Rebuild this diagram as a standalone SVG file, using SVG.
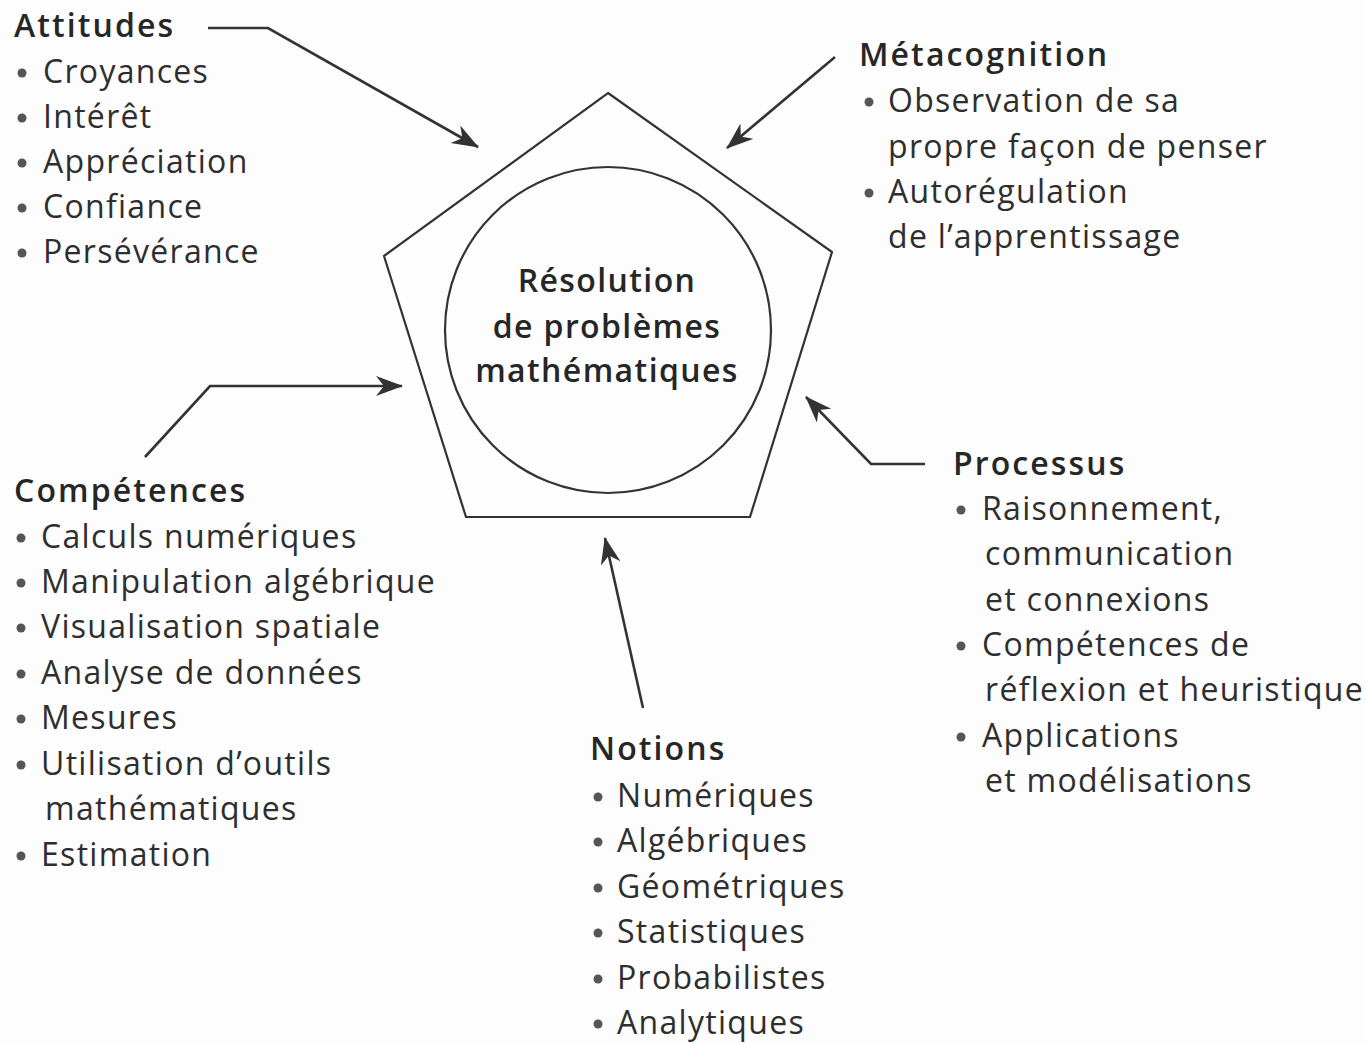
<svg xmlns="http://www.w3.org/2000/svg" width="1366" height="1043" viewBox="0 0 1366 1043">
<defs>
<style>
text{font-family:"Open Sans","Lato",sans-serif;font-size:32px;letter-spacing:1.3px;fill:#2e2e2e;font-variant-ligatures:none}
.h{font-weight:600;letter-spacing:2.1px;fill:#262626}
.c{font-weight:600;letter-spacing:1.4px;text-anchor:middle;fill:#262626}
.b{fill:#555}
.shape{fill:none;stroke:#333;stroke-width:2.2}
.con{fill:none;stroke:#333;stroke-width:2.6;marker-end:url(#ah)}
</style>
<marker id="ah" markerUnits="userSpaceOnUse" markerWidth="30" markerHeight="22" refX="26" refY="10" orient="auto">
<path d="M0,0 L27,10 L0,20 L8,10 z" fill="#333"/>
</marker>
</defs>
<rect width="1366" height="1043" fill="#fdfdfd"/>
<g id="centre">
<polygon class="shape" points="608,93 832,252 750,517 466,517 384,256"/>
<circle class="shape" cx="608" cy="330" r="163"/>
<text class="c" x="607" y="292">Résolution</text>
<text class="c" x="607" y="338">de problèmes</text>
<text class="c" x="607" y="382">mathématiques</text>
</g>
<g id="attitudes">
<text class="h" x="14" y="37">Attitudes</text>
<circle class="b" cx="22" cy="73" r="4.5"/><text x="43" y="83">Croyances</text>
<circle class="b" cx="22" cy="118" r="4.5"/><text x="43" y="128">Intérêt</text>
<circle class="b" cx="22" cy="163" r="4.5"/><text x="43" y="173">Appréciation</text>
<circle class="b" cx="22" cy="208" r="4.5"/><text x="43" y="218">Confiance</text>
<circle class="b" cx="22" cy="253" r="4.5"/><text x="43" y="263">Persévérance</text>
</g>
<g id="metacognition">
<text class="h" x="859" y="66">Métacognition</text>
<circle class="b" cx="869" cy="102" r="4.5"/><text x="888" y="112">Observation de sa</text>
<text x="888" y="158">propre façon de penser</text>
<circle class="b" cx="869" cy="193" r="4.5"/><text x="888" y="203">Autorégulation</text>
<text x="888" y="248">de l’apprentissage</text>
</g>
<g id="competences">
<text class="h" x="14" y="502">Compétences</text>
<circle class="b" cx="21" cy="538" r="4.5"/><text x="41" y="548">Calculs numériques</text>
<circle class="b" cx="21" cy="583" r="4.5"/><text x="41" y="593">Manipulation algébrique</text>
<circle class="b" cx="21" cy="628" r="4.5"/><text x="41" y="638">Visualisation spatiale</text>
<circle class="b" cx="21" cy="674" r="4.5"/><text x="41" y="684">Analyse de données</text>
<circle class="b" cx="21" cy="719" r="4.5"/><text x="41" y="729">Mesures</text>
<circle class="b" cx="21" cy="765" r="4.5"/><text x="41" y="775">Utilisation d’outils</text>
<text x="45" y="820">mathématiques</text>
<circle class="b" cx="21" cy="856" r="4.5"/><text x="41" y="866">Estimation</text>
</g>
<g id="processus">
<text class="h" x="953" y="475">Processus</text>
<circle class="b" cx="961" cy="510" r="4.5"/><text x="982" y="520">Raisonnement,</text>
<text x="985" y="565">communication</text>
<text x="985" y="611">et connexions</text>
<circle class="b" cx="961" cy="646" r="4.5"/><text x="982" y="656">Compétences de</text>
<text x="985" y="701">réflexion et heuristique</text>
<circle class="b" cx="961" cy="737" r="4.5"/><text x="982" y="747">Applications</text>
<text x="985" y="792">et modélisations</text>
</g>
<g id="notions">
<text class="h" x="590" y="760">Notions</text>
<circle class="b" cx="598" cy="797" r="4.5"/><text x="617" y="807">Numériques</text>
<circle class="b" cx="598" cy="842" r="4.5"/><text x="617" y="852">Algébriques</text>
<circle class="b" cx="598" cy="888" r="4.5"/><text x="617" y="898">Géométriques</text>
<circle class="b" cx="598" cy="933" r="4.5"/><text x="617" y="943">Statistiques</text>
<circle class="b" cx="598" cy="979" r="4.5"/><text x="617" y="989">Probabilistes</text>
<circle class="b" cx="598" cy="1024" r="4.5"/><text x="617" y="1034">Analytiques</text>
</g>
<g id="connectors">
<polyline class="con" points="208,28 268,28 478,147"/>
<line class="con" x1="835" y1="57" x2="727" y2="148"/>
<polyline class="con" points="145,457 210,386 402,386"/>
<polyline class="con" points="925,464 871,464 806,397"/>
<line class="con" x1="643" y1="708" x2="605" y2="538"/>
</g>
</svg>
